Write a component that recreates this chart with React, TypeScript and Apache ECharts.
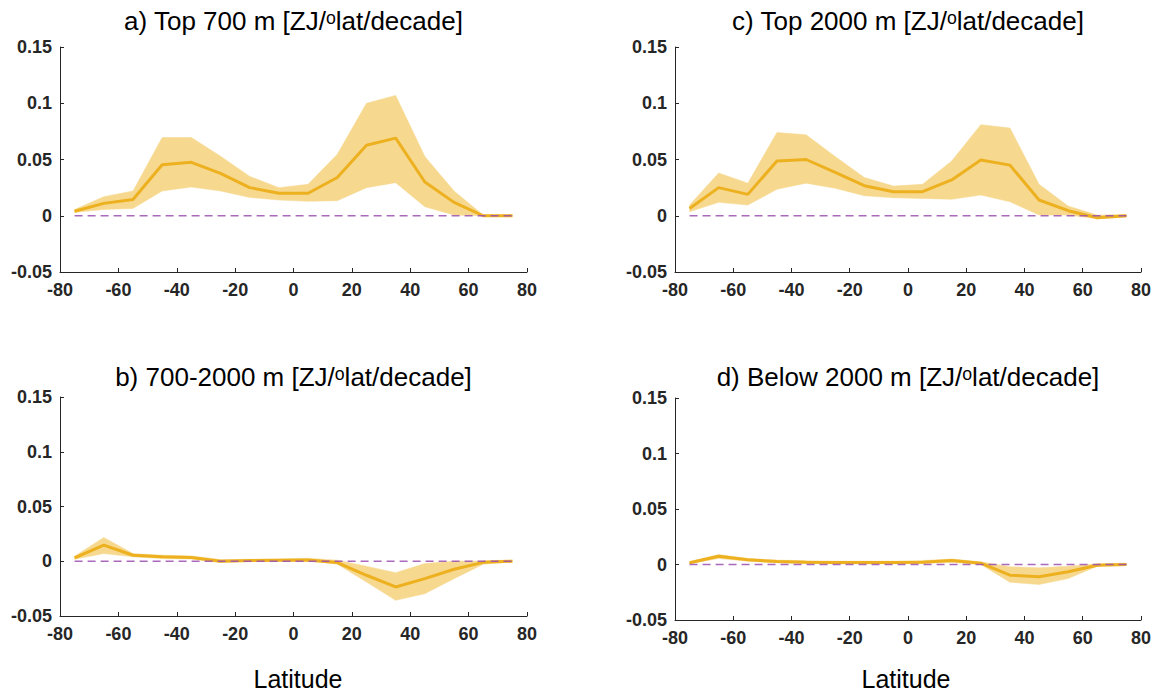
import React, { useEffect, useRef } from "react";
import * as echarts from "echarts";

const latitudes = [-75, -65, -55, -45, -35, -25, -15, -5, 5, 15, 25, 35, 45, 55, 65, 75];

// a) Top 700 m
const aMean = [0.004, 0.011, 0.0145, 0.0454, 0.0475, 0.0377, 0.025, 0.02, 0.02, 0.034, 0.0627, 0.069, 0.03, 0.0119, 0.0, 0.0];
const aUpper = [0.0055, 0.017, 0.022, 0.0695, 0.0695, 0.053, 0.035, 0.025, 0.028, 0.0546, 0.1, 0.107, 0.0526, 0.022, 0.0006, 0.001];
const aLower = [0.003, 0.0056, 0.0065, 0.022, 0.0255, 0.022, 0.0163, 0.014, 0.0128, 0.0134, 0.025, 0.0294, 0.008, 0.0006, 0.0, -0.0006];

// b) 700-2000 m
const bMean = [0.003, 0.0147, 0.0055, 0.004, 0.0034, 0.0, 0.0006, 0.001, 0.0012, -0.0012, -0.0128, -0.0235, -0.0159, -0.0073, -0.001, 0.0];
const bUpper = [0.0046, 0.0217, 0.007, 0.0055, 0.0049, 0.0015, 0.0018, 0.0021, 0.0027, 0.001, -0.0046, -0.0104, -0.0021, 0.0, 0.0003, 0.0012];
const bLower = [0.0018, 0.007, 0.004, 0.0024, 0.002, -0.0012, -0.0003, 0.0, 0.0, -0.0027, -0.019, -0.0357, -0.0296, -0.0159, -0.0027, -0.0006];

// c) Top 2000 m
const cMean = [0.0065, 0.025, 0.019, 0.0487, 0.05, 0.0386, 0.0267, 0.0214, 0.0214, 0.0318, 0.0496, 0.045, 0.014, 0.0045, -0.0018, 0.0];
const cUpper = [0.0095, 0.038, 0.029, 0.074, 0.072, 0.0526, 0.034, 0.0264, 0.028, 0.0487, 0.081, 0.078, 0.028, 0.0086, 0.0006, 0.0012];
const cLower = [0.0036, 0.0119, 0.0095, 0.0235, 0.029, 0.0244, 0.0178, 0.016, 0.0154, 0.0146, 0.0184, 0.0125, 0.0006, 0.0006, -0.0027, -0.0012];

// d) Below 2000 m
const dMean = [0.0015, 0.0075, 0.0042, 0.0027, 0.002, 0.0018, 0.0018, 0.0018, 0.002, 0.0036, 0.0012, -0.0096, -0.011, -0.0066, -0.0006, 0.0];
const dUpper = [0.0024, 0.009, 0.0054, 0.004, 0.0033, 0.003, 0.003, 0.003, 0.0036, 0.005, 0.0024, -0.002, -0.003, -0.0015, 0.0006, 0.0012];
const dLower = [0.0006, 0.0054, 0.003, 0.0015, 0.0009, 0.0006, 0.0006, 0.0006, 0.0009, 0.002, 0.0, -0.016, -0.018, -0.0127, -0.0015, -0.0009];

const titles = [
  "a) Top 700 m [ZJ/ᵒlat/decade]",
  "b) 700-2000 m [ZJ/ᵒlat/decade]",
  "c) Top 2000 m [ZJ/ᵒlat/decade]",
  "d) Below 2000 m [ZJ/ᵒlat/decade]",
];
const xLabel = "Latitude";

const LINE = "#EDB120";
const BAND = "#F6D88F";
const ZERO = "#9B4FB0";
const AXIS = "#262626";
const FONT = "'Liberation Sans', Arial, Helvetica, sans-serif";

const panels = [
  { mean: aMean, upper: aUpper, lower: aLower, grid: { left: 60, top: 47, width: 467, height: 225 }, titleTop: 8 },
  { mean: bMean, upper: bUpper, lower: bLower, grid: { left: 60, top: 397, width: 467, height: 219 }, titleTop: 364 },
  { mean: cMean, upper: cUpper, lower: cLower, grid: { left: 675, top: 47, width: 466, height: 225 }, titleTop: 8 },
  { mean: dMean, upper: dUpper, lower: dLower, grid: { left: 675, top: 398, width: 466, height: 222 }, titleTop: 364 },
];

export default function App() {
  const ref = useRef<HTMLDivElement>(null);
  useEffect(() => {
    if (!ref.current) return;
    const chart = echarts.init(ref.current, null, { renderer: "svg" });
    const grids: any[] = [];
    const xAxes: any[] = [];
    const yAxes: any[] = [];
    const series: any[] = [];
    const title: any[] = [];
    panels.forEach((p, i) => {
      grids.push({ ...p.grid, containLabel: false });
      xAxes.push({
        type: "value",
        gridIndex: i,
        min: -80,
        max: 80,
        interval: 20,
        splitLine: { show: false },
        axisLine: { onZero: false, lineStyle: { color: AXIS, width: 1 } },
        axisTick: { inside: true, length: 4, lineStyle: { color: AXIS } },
        axisLabel: { color: AXIS, fontSize: 18, fontWeight: "bold", fontFamily: FONT, margin: 9 },
      });
      yAxes.push({
        type: "value",
        gridIndex: i,
        min: -0.05,
        max: 0.15,
        interval: 0.05,
        splitLine: { show: false },
        axisLine: { show: true, onZero: false, lineStyle: { color: AXIS, width: 1 } },
        axisTick: { show: true, inside: true, length: 4, lineStyle: { color: AXIS } },
        axisLabel: { color: AXIS, fontSize: 18, fontWeight: "bold", fontFamily: FONT, margin: 8 },
      });
      const bandData = latitudes.map((x, k) => [x, p.lower[k], p.upper[k]]);
      series.push({
        type: "custom",
        xAxisIndex: i,
        yAxisIndex: i,
        encode: { x: 0, y: [1, 2] },
        data: bandData,
        z: 1,
        renderItem: (params: any, api: any) => {
          if (params.dataIndex !== 0) return { type: "group", children: [] };
          const upperPts = bandData.map((d) => api.coord([d[0], d[2]]));
          const lowerPts = bandData.map((d) => api.coord([d[0], d[1]])).reverse();
          return {
            type: "polygon",
            shape: { points: upperPts.concat(lowerPts) },
            style: { fill: BAND, stroke: BAND, lineWidth: 0.5 },
          };
        },
      });
      series.push({
        type: "line",
        xAxisIndex: i,
        yAxisIndex: i,
        symbol: "none",
        lineStyle: { color: LINE, width: 3 },
        data: latitudes.map((x, k) => [x, p.mean[k]]),
        z: 2,
      });
      series.push({
        type: "line",
        xAxisIndex: i,
        yAxisIndex: i,
        symbol: "none",
        lineStyle: { color: ZERO, width: 1.3, type: [8, 5], opacity: 0.85 },
        data: [
          [latitudes[0], 0],
          [latitudes[latitudes.length - 1], 0],
        ],
        z: 3,
      });
      const cx = p.grid.left + p.grid.width / 2;
      title.push({
        text: titles[i],
        left: cx,
        top: p.titleTop,
        padding: 0,
        textAlign: "center",
        textStyle: { fontSize: 26, fontWeight: "normal", color: "#000", fontFamily: FONT },
      });
    });
    chart.setOption({
      animation: false,
      backgroundColor: "#fff",
      title,
      grid: grids,
      xAxis: xAxes,
      yAxis: yAxes,
      series,
      graphic: [
        {
          type: "text",
          x: 298,
          y: 679,
          style: { text: xLabel, fontSize: 25, fill: "#000", fontFamily: FONT, align: "center", verticalAlign: "middle" },
        },
        {
          type: "text",
          x: 906,
          y: 679,
          style: { text: xLabel, fontSize: 25, fill: "#000", fontFamily: FONT, align: "center", verticalAlign: "middle" },
        },
      ],
    });
    return () => chart.dispose();
  }, []);
  return (
    <div
      ref={ref}
      style={{ position: "absolute", left: 0, top: 0, width: 1154, height: 696 }}
    />
  );
}
